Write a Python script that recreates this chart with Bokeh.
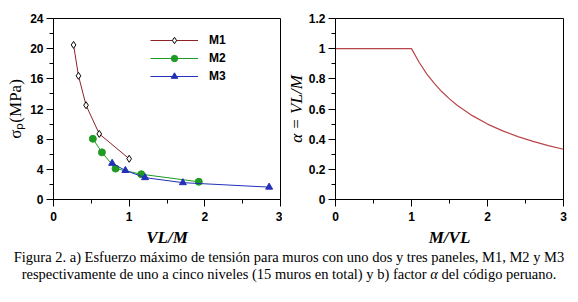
from bokeh.plotting import figure
from bokeh.models import (Range1d, FixedTicker, CustomJSTickFormatter, Title,
                          Legend, LegendItem, Div)
from bokeh.layouts import row, column
from bokeh.embed import file_html
from bokeh.resources import INLINE

# ---- data ----
m1_x = [0.265, 0.33, 0.43, 0.605, 1.00]
m1_y = [20.5, 16.4, 12.5, 8.7, 5.4]
m2_x = [0.52, 0.64, 0.82, 1.16, 1.92]
m2_y = [8.05, 6.25, 4.1, 3.35, 2.35]
m3_x = [0.775, 0.95, 1.21, 1.71, 2.85]
m3_y = [4.8, 3.85, 2.9, 2.23, 1.64]

alpha_x = [0, 1.0, 1.1, 1.2, 1.3, 1.4, 1.5, 1.6, 1.8, 2.0, 2.2, 2.4, 2.6, 2.8, 3.0]
alpha_y = [1.0, 1.0, 0.91, 0.833, 0.77, 0.714, 0.667, 0.625, 0.556, 0.5, 0.455,
           0.417, 0.385, 0.357, 0.333]

x_ticks = [0, 1, 2, 3]
x_minor = [0.5, 1.5, 2.5]
s_ticks = [0, 4, 8, 12, 16, 20, 24]
s_minor = [2, 6, 10, 14, 18, 22]
a_ticks = [0, 0.2, 0.4, 0.6, 0.8, 1.0, 1.2]
a_minor = [0.1, 0.3, 0.5, 0.7, 0.9, 1.1]

C_M1 = "#8e2327"
C_M2 = "#1f9a22"
C_M3 = "#2330b8"
C_A = "#b8464a"

SANS = "Liberation Sans"
SERIF = "Liberation Serif"


def style(p, xt, xm, yt, ym):
    p.xgrid.visible = False
    p.ygrid.visible = False
    p.outline_line_color = "black"
    p.outline_line_width = 1
    p.xaxis.ticker = FixedTicker(ticks=xt, minor_ticks=xm)
    p.yaxis.ticker = FixedTicker(ticks=yt, minor_ticks=ym)
    for ax in (p.xaxis[0], p.yaxis[0]):
        ax.axis_line_color = "black"
        ax.major_tick_line_color = "black"
        ax.minor_tick_line_color = "black"
        ax.major_tick_in = 0
        ax.major_tick_out = 7
        ax.minor_tick_in = 0
        ax.minor_tick_out = 4
        ax.major_label_text_font = SANS
        ax.major_label_text_font_style = "bold"
        ax.major_label_text_font_size = "12px"
        ax.major_label_text_color = "black"
    p.xaxis.major_label_standoff = 5
    p.yaxis.major_label_standoff = 3
    p.xaxis.axis_label_text_font = SERIF
    p.xaxis.axis_label_text_font_style = "bold italic"
    p.xaxis.axis_label_text_font_size = "17px"
    p.xaxis.axis_label_standoff = 4
    p.xaxis.axis_label_text_color = "black"
    p.yaxis.formatter = CustomJSTickFormatter(code="return parseFloat(tick.toFixed(2)).toString();")


# ---- left panel ----
p1 = figure(width=282, height=249, output_backend="svg", toolbar_location=None,
            x_range=Range1d(0, 3), y_range=Range1d(0, 24),
            min_border_left=53, min_border_right=2, min_border_top=17, min_border_bottom=49)
style(p1, x_ticks, x_minor, s_ticks, s_minor)
p1.xaxis.axis_label = "VL/M"

l1 = p1.line(m1_x, m1_y, line_color=C_M1, line_width=1)
s1 = p1.scatter(m1_x, m1_y, marker="diamond", size=7, fill_color="white",
                line_color="black", line_width=1)
l2 = p1.line(m2_x, m2_y, line_color=C_M2, line_width=1)
s2 = p1.scatter(m2_x, m2_y, marker="circle", size=7, fill_color=C_M2, line_color=C_M2)
l3 = p1.line(m3_x, m3_y, line_color=C_M3, line_width=1)
s3 = p1.scatter(m3_x, m3_y, marker="triangle", size=7, fill_color=C_M3, line_color=C_M3)

leg = Legend(items=[LegendItem(label="M1", renderers=[l1, s1]),
                    LegendItem(label="M2", renderers=[l2, s2]),
                    LegendItem(label="M3", renderers=[l3, s3])],
             location=(97, 115), glyph_width=48, glyph_height=16, label_height=16,
             spacing=2, padding=0, margin=0, label_standoff=11,
             border_line_alpha=0, background_fill_alpha=0,
             label_text_font=SANS, label_text_font_style="bold",
             label_text_font_size="12px", label_text_color="black")
p1.add_layout(leg)

p1.add_layout(Title(text="σₚ(MPa)", align="center", offset=15, standoff=6,
                    text_font=SERIF, text_font_style="normal", text_font_size="17px",
                    text_color="black"), "left")

# ---- right panel ----
p2 = figure(width=296, height=249, output_backend="svg", toolbar_location=None,
            x_range=Range1d(0, 3), y_range=Range1d(0, 1.2),
            min_border_left=53, min_border_right=15, min_border_top=18, min_border_bottom=48)
style(p2, x_ticks, x_minor, a_ticks, a_minor)
p2.xaxis.axis_label = "M/VL"
p2.line(alpha_x, alpha_y, line_color=C_A, line_width=1.2)
p2.add_layout(Title(text="α = VL/M", align="center", offset=33, standoff=0,
                    text_font=SERIF, text_font_style="italic", text_font_size="17px",
                    text_color="black"), "left")

cap = Div(text=("<div style='line-height:16.5px'>Figura 2. a) Esfuerzo máximo de tensión "
                "para muros con uno dos y tres paneles, M1, M2 y M3<br>respectivamente de "
                "uno a cinco niveles (15 muros en total) y b) factor <i>α</i> del código "
                "peruano.</div>"),
          width=578,
          styles={"font-family": SERIF, "font-size": "14.5px", "text-align": "center",
                  "line-height": "16.5px", "color": "black", "margin": "0"})

layout = column(row(p1, p2), cap)
open("out.html", "w").write(file_html(layout, INLINE))
